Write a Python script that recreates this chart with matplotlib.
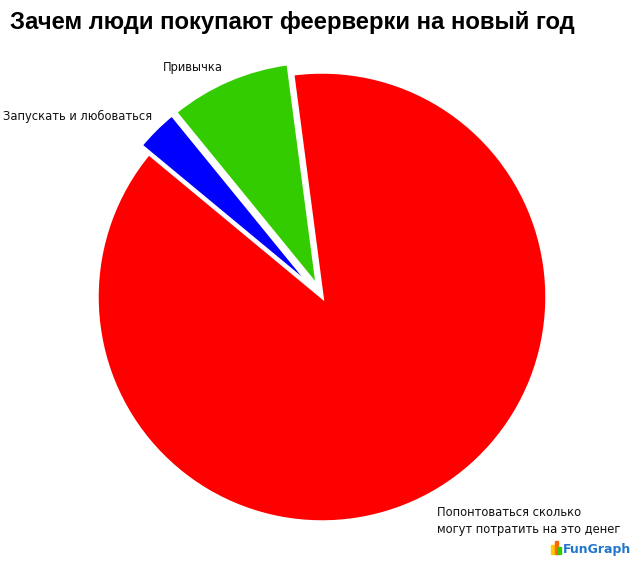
import matplotlib
matplotlib.use("Agg")
import matplotlib.pyplot as plt
from matplotlib.patches import Rectangle

title = "Зачем люди покупают феерверки на новый год"
labels = ["Привычка", "Запускать и любоваться",
          "Попонтоваться сколько\nмогут потратить на это денег"]
values = [8.8, 3.1, 88.1]
colors = ["#33cc00", "#0000ff", "#ff0000"]
explode = [0.05, 0.05, 0.0]

W, H = 640, 565
fig = plt.figure(figsize=(W / 100, H / 100), dpi=100)
fig.patch.set_facecolor("white")

cx, cy, r = 322, 297, 225
ax = fig.add_axes([(cx - r) / W, (H - cy - r) / H, 2 * r / W, 2 * r / H])
wedges, _ = ax.pie(values, colors=colors, explode=explode, startangle=97.5,
                   counterclock=True, radius=1.0,
                   wedgeprops=dict(edgecolor="white", linewidth=2.5))
ax.set_xlim(-1, 1)
ax.set_ylim(-1, 1)
ax.set_aspect("equal")
ax.axis("off")

fig.text(10 / W, 1 - 22 / H, title, fontsize=17.2, fontweight="bold",
         family="Liberation Sans", ha="left", va="center")

font = dict(fontsize=8.3, family="DejaVu Sans", color="#111111")
fig.text(163 / W, 1 - 67 / H, labels[0], ha="left", va="center", **font)
fig.text(3 / W, 1 - 116 / H, labels[1], ha="left", va="center", **font)
fig.text(437 / W, 1 - 521 / H, labels[2], ha="left", va="center",
         linespacing=1.45, **font)

# small FunGraph mark in the corner
bar_cols = ["#ffcc00", "#ff6600", "#33cc00"]
bar_h = [9, 13, 7]
for i, (bc, bh) in enumerate(zip(bar_cols, bar_h)):
    fig.patches.append(Rectangle(((551 + i * 3.5) / W, (H - 554) / H),
                                 3 / W, bh / H, transform=fig.transFigure,
                                 color=bc))
fig.text(563 / W, 1 - 549 / H, "FunGraph", fontsize=9, fontweight="bold",
         family="DejaVu Sans", color="#2277cc", ha="left", va="center")

fig.savefig("out.png", dpi=100, facecolor="white")
